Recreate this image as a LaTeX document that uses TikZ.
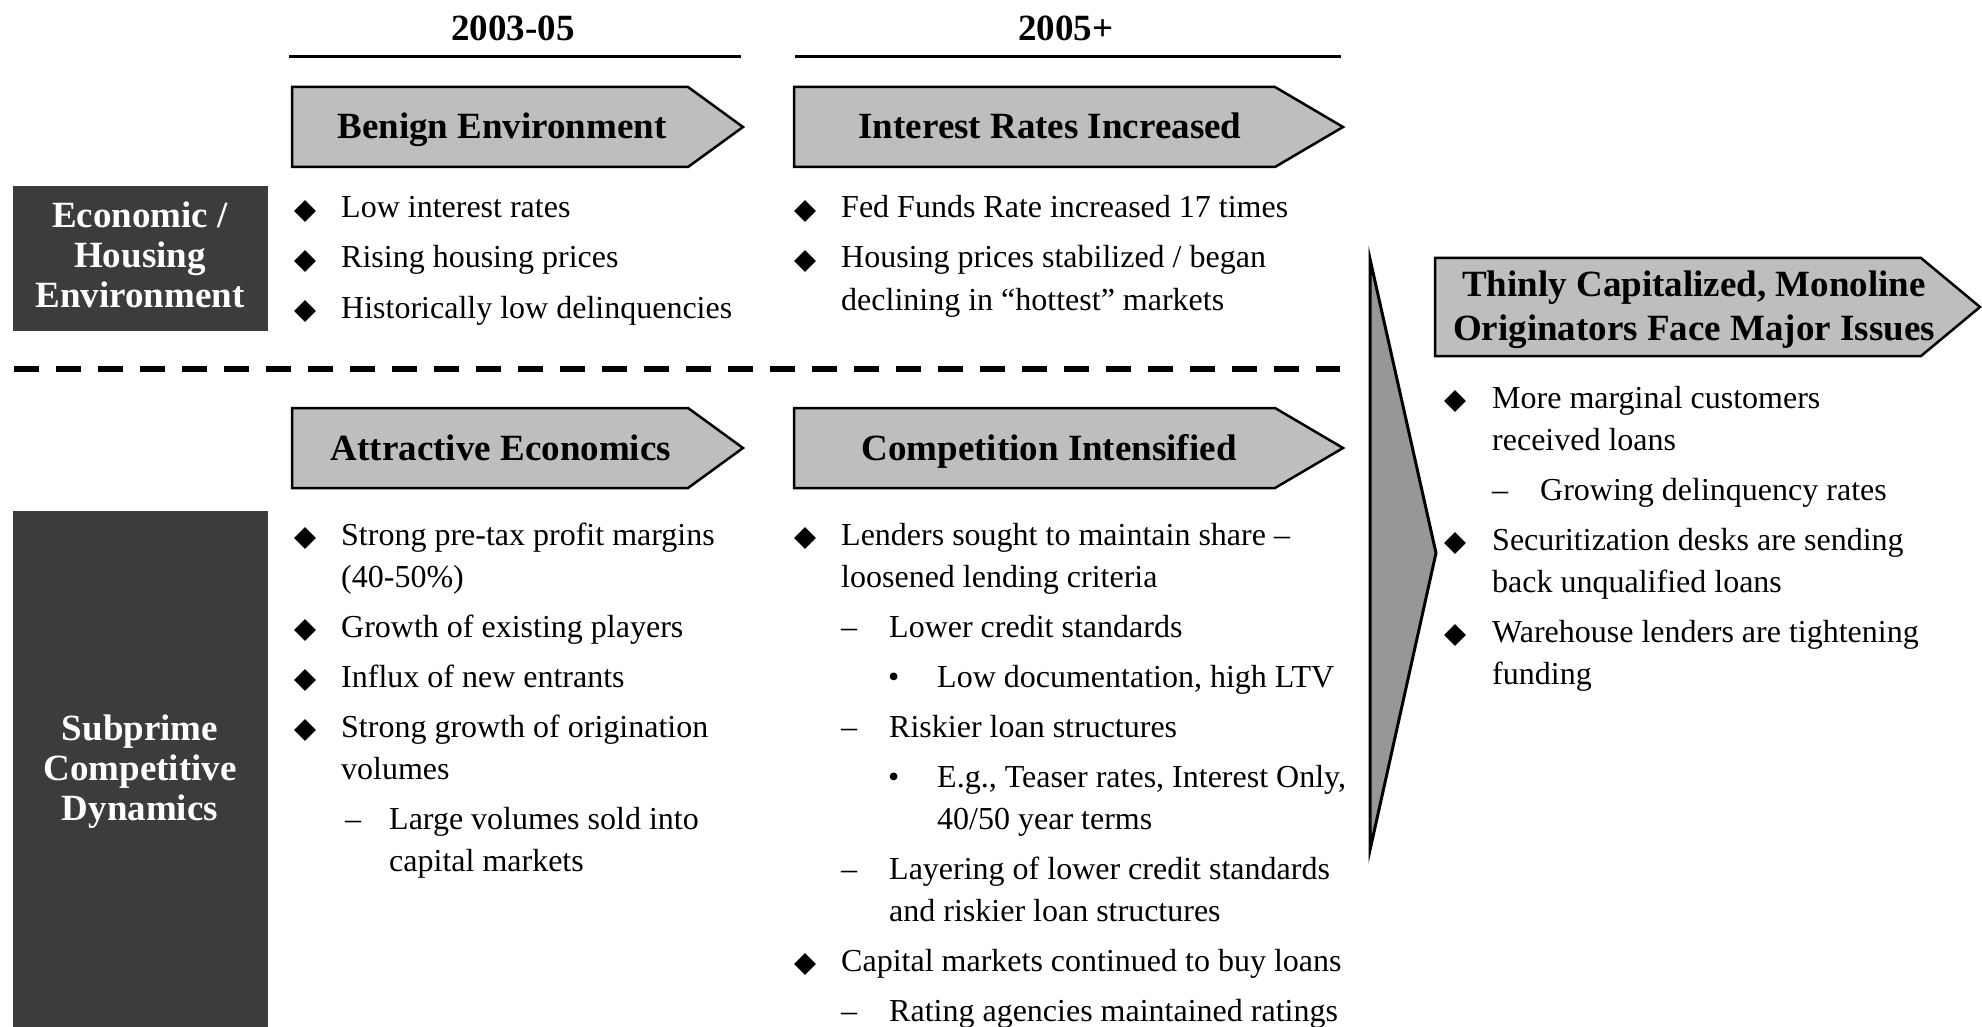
\documentclass[tikz,border=0pt]{standalone}
\usepackage{fontspec}
\setmainfont{Liberation Serif}
\usetikzlibrary{shapes.geometric}
\definecolor{arrowgray}{HTML}{BEBEBE}
\definecolor{triangray}{HTML}{979797}
\definecolor{darkbox}{HTML}{3C3C3C}
\tikzset{
  body/.style={anchor=base west, inner sep=0pt, font=\fontsize{32}{38}\selectfont},
  head/.style={anchor=base, inner sep=0pt, font=\fontsize{37}{42}\selectfont\bfseries},
  wlabel/.style={anchor=base, inner sep=0pt, text=white, font=\fontsize{37}{42}\selectfont\bfseries},
  dia/.style={diamond, fill=black, inner sep=0pt, minimum width=22pt, minimum height=22pt},
  chev/.style={draw=black, line width=2.5pt, fill=arrowgray, line join=miter},
  tri/.style={draw=black, line width=3pt, fill=triangray, line join=miter},
  sidebox/.style={fill=darkbox},
  yearrule/.style={line width=3pt},
  sep/.style={line width=6pt, dash pattern=on 25pt off 17pt}
}
\newcommand\tl[4]{\node[body] (#1) at (#2,#3) {#4};}
\newcommand\dm[3]{\node[dia] (#1) at (#2,#3-7) {};}
\begin{document}
\begin{tikzpicture}[x=1pt,y=-1pt]
\useasboundingbox (0,0) rectangle (1982,1027);
% year headers
\node[head] (y1) at (513,41) {2003-05};
\node[head] (y2) at (1066,41) {2005+};
\draw[yearrule] (289,57) -- (741,57);
\draw[yearrule] (795,57) -- (1341,57);
% chevrons row 1
\draw[chev] (292,87) -- (688,87) -- (743,127) -- (688,167) -- (292,167) -- cycle;
\draw[chev] (794,87) -- (1275,87) -- (1343,127) -- (1275,167) -- (794,167) -- cycle;
\node[head] (h1) at (502,139) {Benign Environment};
\node[head] (h2) at (1050,139) {Interest Rates Increased};
% chevrons row 2
\draw[chev] (292,408) -- (688,408) -- (743,448) -- (688,488) -- (292,488) -- cycle;
\draw[chev] (794,408) -- (1275,408) -- (1343,448) -- (1275,488) -- (794,488) -- cycle;
\node[head] (h3) at (501,460) {Attractive Economics};
\node[head] (h4) at (1049,460) {Competition Intensified};
% side boxes
\fill[sidebox] (13,186) rectangle (268,331);
\node[wlabel] (s1a) at (140,228) {Economic /};
\node[wlabel] (s1b) at (140,268) {Housing};
\node[wlabel] (s1c) at (140,308) {Environment};
\fill[sidebox] (13,511) rectangle (268,1030);
\node[wlabel] (s2a) at (140,740) {Subprime};
\node[wlabel] (s2b) at (140,780) {Competitive};
\node[wlabel] (s2c) at (140,820) {Dynamics};
% separator
\draw[sep] (14,369) -- (1340,369);
% big triangle
\draw[tri] (1370,259) -- (1436,553) -- (1370,850) -- cycle;
% result chevron
\draw[chev] (1435,258) -- (1921,258) -- (1980,307) -- (1921,356) -- (1435,356) -- cycle;
\node[head] (r1) at (1694,297) {Thinly Capitalized, Monoline};
\node[head] (r2) at (1694,340) {Originators Face Major Issues};
% column 1 top
\dm{d1}{305}{218}\tl{t1}{341}{218}{Low interest rates}
\dm{d2}{305}{268}\tl{t2}{341}{268}{Rising housing prices}
\dm{d3}{305}{318}\tl{t3}{341}{318}{Historically low delinquencies}
% column 2 top
\dm{d4}{805}{218}\tl{t4}{841}{218}{Fed Funds Rate increased 17 times}
\dm{d5}{805}{268}\tl{t5}{841}{268}{Housing prices stabilized / began}
\tl{t6}{841}{310}{declining in “hottest” markets}
% column 1 lower
\dm{d6}{305}{545}\tl{t7}{341}{545}{Strong pre-tax profit margins}
\tl{t8}{341}{587}{(40-50\%)}
\dm{d7}{305}{637}\tl{t9}{341}{637}{Growth of existing players}
\dm{d8}{305}{687}\tl{t10}{341}{687}{Influx of new entrants}
\dm{d9}{305}{737}\tl{t11}{341}{737}{Strong growth of origination}
\tl{t12}{341}{779}{volumes}
\tl{m1}{345}{829}{–}\tl{t13}{389}{829}{Large volumes sold into}
\tl{t14}{389}{871}{capital markets}
% column 2 lower
\dm{d10}{805}{545}\tl{t15}{841}{545}{Lenders sought to maintain share –}
\tl{t16}{841}{587}{loosened lending criteria}
\tl{m2}{841}{637}{–}\tl{t17}{889}{637}{Lower credit standards}
\tl{b1}{888}{687}{•}\tl{t18}{937}{687}{Low documentation, high LTV}
\tl{m3}{841}{737}{–}\tl{t19}{889}{737}{Riskier loan structures}
\tl{b2}{888}{787}{•}\tl{t20}{937}{787}{E.g., Teaser rates, Interest Only,}
\tl{t21}{937}{829}{40/50 year terms}
\tl{m4}{841}{879}{–}\tl{t22}{889}{879}{Layering of lower credit standards}
\tl{t23}{889}{921}{and riskier loan structures}
\dm{d11}{805}{971}\tl{t24}{841}{971}{Capital markets continued to buy loans}
\tl{m5}{841}{1021}{–}\tl{t25}{889}{1021}{Rating agencies maintained ratings}
% right column
\dm{d12}{1455}{408}\tl{t26}{1492}{408}{More marginal customers}
\tl{t27}{1492}{450}{received loans}
\tl{m6}{1492}{500}{–}\tl{t28}{1540}{500}{Growing delinquency rates}
\dm{d13}{1455}{550}\tl{t29}{1492}{550}{Securitization desks are sending}
\tl{t30}{1492}{592}{back unqualified loans}
\dm{d14}{1455}{642}\tl{t31}{1492}{642}{Warehouse lenders are tightening}
\tl{t32}{1492}{684}{funding}
\end{tikzpicture}
\end{document}
